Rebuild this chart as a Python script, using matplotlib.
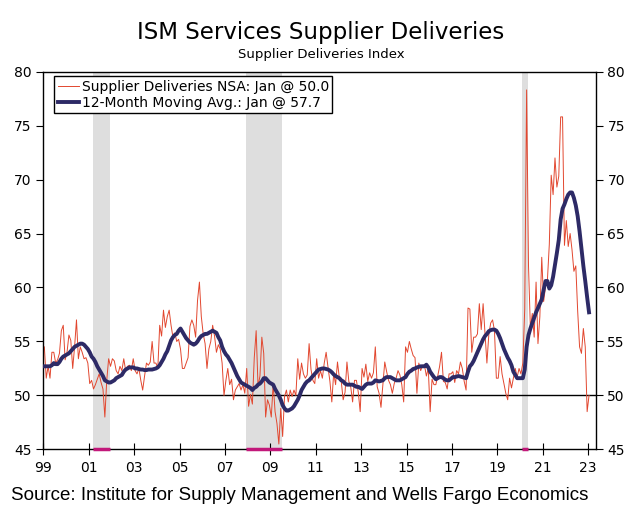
import numpy as np
import matplotlib.pyplot as plt

# ISM services supplier deliveries, monthly Jan 1999 - Jan 2023 (NSA)
nsa = [
    54.5, 51.6, 52.7, 51.6, 54.0, 54.0, 53.0, 53.3, 53.9, 56.0, 56.5, 53.3,  # 1999
    54.0, 55.6, 55.1, 52.5, 54.5, 57.0, 53.4, 54.5, 54.0, 53.4, 53.5, 53.0,  # 2000
    51.1, 51.4, 50.6, 51.0, 51.5, 52.0, 51.2, 50.6, 48.0, 51.4, 53.4, 52.7,  # 2001
    53.4, 53.2, 52.3, 52.0, 52.7, 52.3, 53.4, 52.3, 52.7, 52.8, 52.3, 53.4,  # 2002
    52.3, 52.0, 52.5, 51.4, 50.5, 51.8, 53.0, 52.8, 53.1, 55.0, 53.0, 53.0,  # 2003
    52.5, 56.5, 55.5, 57.9, 56.3, 57.3, 57.9, 56.5, 55.4, 55.8, 55.0, 55.2,  # 2004
    54.3, 52.5, 52.5, 53.0, 53.5, 56.4, 57.0, 56.5, 55.4, 58.8, 60.5, 57.3,  # 2005
    55.7, 54.8, 52.5, 54.3, 55.0, 56.5, 55.5, 54.0, 54.7, 54.3, 53.0, 50.0,  # 2006
    51.4, 52.5, 51.0, 51.5, 49.6, 50.5, 50.8, 51.1, 50.5, 51.0, 50.2, 52.5,  # 2007
    49.0, 50.1, 49.2, 53.5, 56.0, 50.8, 51.8, 55.4, 53.9, 48.0, 49.6, 49.1,  # 2008
    48.0, 51.1, 48.5, 47.4, 45.5, 48.8, 46.2, 49.9, 50.5, 49.4, 50.5, 49.9,  # 2009
    50.5, 50.0, 53.4, 51.5, 53.0, 52.0, 51.6, 51.9, 54.8, 52.4, 51.4, 51.1,  # 2010
    53.4, 51.6, 52.3, 51.6, 53.0, 54.0, 52.6, 51.3, 49.4, 52.1, 51.0, 53.1,  # 2011
    51.6, 51.3, 49.6, 50.3, 53.1, 51.3, 50.8, 49.4, 51.4, 51.4, 50.3, 48.5,  # 2012
    52.5, 51.7, 52.9, 51.3, 52.1, 51.6, 52.1, 54.5, 50.8, 50.2, 48.9, 51.0,  # 2013
    53.1, 52.2, 51.4, 51.0, 50.2, 51.1, 51.6, 52.3, 51.9, 51.0, 49.4, 54.5,  # 2014
    54.0, 55.0, 54.3, 53.7, 53.5, 50.2, 53.0, 52.3, 52.8, 52.8, 51.8, 52.5,  # 2015
    48.5, 51.5, 51.0, 51.0, 51.8, 52.7, 54.0, 51.3, 51.2, 50.6, 52.0, 52.0,  # 2016
    52.2, 51.2, 52.3, 52.0, 53.1, 52.5, 51.3, 50.5, 58.1, 58.0, 54.0, 55.4,  # 2017
    55.4, 55.7, 58.5, 56.1, 58.5, 55.8, 53.0, 55.6, 56.7, 57.0, 56.0, 51.6,  # 2018
    51.6, 53.6, 52.0, 51.1, 50.2, 49.6, 51.6, 50.7, 51.6, 52.5, 51.7, 52.5,  # 2019
    52.0, 53.0, 58.0, 78.3, 62.0, 56.2, 57.6, 55.4, 60.5, 54.8, 57.3, 62.8,  # 2020
    58.7, 60.1, 60.7, 64.0, 70.4, 68.6, 72.0, 69.3, 70.3, 75.8, 75.8, 63.9,  # 2021
    66.2, 63.8, 65.0, 63.5, 61.5, 62.0, 57.8, 54.5, 53.9, 56.2, 54.5, 48.5,  # 2022
    50.0,                                                                    # 2023
]

# 12-month moving average as drawn
ma12 = [
    52.7, 52.7, 52.7, 52.7, 52.8, 53.0, 52.9, 52.9, 53.1, 53.4, 53.6, 53.7,
    53.8, 53.9, 54.1, 54.3, 54.5, 54.6, 54.7, 54.8, 54.8, 54.7, 54.5, 54.3,
    54.0, 53.6, 53.4, 53.1, 52.7, 52.4, 52.1, 51.8, 51.4, 51.3, 51.2, 51.2,
    51.3, 51.4, 51.6, 51.7, 51.8, 51.9, 52.2, 52.4, 52.5, 52.6, 52.6, 52.6,
    52.5, 52.5, 52.45, 52.4, 52.4, 52.35, 52.35, 52.4, 52.4, 52.4, 52.45, 52.5,
    52.6, 52.8, 53.1, 53.4, 53.8, 54.1, 54.6, 55.1, 55.4, 55.6, 55.7, 56.0,
    56.2, 55.9, 55.6, 55.3, 55.1, 54.9, 54.8, 54.7, 54.8, 55.0, 55.3, 55.5,
    55.6, 55.7, 55.7, 55.8, 55.9, 56.0, 55.9, 55.8, 55.4, 55.1, 54.5, 54.1,
    53.8, 53.6, 53.3, 53.0, 52.6, 52.2, 51.8, 51.5, 51.2, 51.1, 51.0, 50.9,
    50.8, 50.7, 50.5, 50.7, 50.8, 51.0, 51.1, 51.3, 51.6, 51.6, 51.4, 51.2,
    51.1, 51.0, 50.6, 50.3, 50.0, 49.6, 49.1, 48.8, 48.6, 48.6, 48.7, 48.8,
    49.0, 49.3, 49.6, 50.0, 50.5, 50.8, 51.1, 51.3, 51.4, 51.6, 51.8, 52.0,
    52.2, 52.4, 52.45, 52.5, 52.5, 52.45, 52.4, 52.3, 52.15, 51.95, 51.8, 51.7,
    51.6, 51.4, 51.3, 51.1, 51.0, 51.0, 51.0, 51.0, 50.9, 50.8, 50.8, 50.7,
    50.6, 50.8, 51.0, 51.1, 51.1, 51.1, 51.2, 51.4, 51.35, 51.3, 51.35, 51.4,
    51.6, 51.7, 51.7, 51.7, 51.6, 51.5, 51.4, 51.4, 51.4, 51.5, 51.6, 51.7,
    52.0, 52.2, 52.3, 52.45, 52.5, 52.6, 52.65, 52.7, 52.7, 52.7, 52.85, 52.6,
    52.2, 51.95, 51.7, 51.5, 51.6, 51.7, 51.7, 51.6, 51.45, 51.4, 51.4, 51.55,
    51.7, 51.7, 51.75, 51.8, 51.75, 51.7, 51.65, 51.6, 52.2, 52.7, 52.9, 53.2,
    53.6, 54.0, 54.4, 54.8, 55.2, 55.5, 55.7, 55.95, 56.05, 56.1, 56.1, 56.0,
    55.7, 55.3, 54.8, 54.3, 53.9, 53.5, 53.2, 52.8, 52.2, 51.9, 51.6, 51.6,
    51.6, 51.6, 52.4, 54.5, 55.6, 56.2, 56.7, 57.2, 57.7, 58.1, 58.5, 58.9,
    59.8, 60.6, 60.6, 59.9, 60.2, 61.0, 62.1, 63.2, 64.4, 66.3, 67.3, 67.7,
    68.2, 68.6, 68.8, 68.8, 68.3, 67.6, 66.6, 65.2, 63.6, 62.0, 60.6, 59.1,
    57.7,
]

# recessions (start, end) in decimal years
rec_start = [2001 + 2/12, 2007 + 11/12, 2020 + 1/12]
rec_end = [2001 + 11/12, 2009 + 6/12, 2020 + 4/12]

x = 1999 + (np.arange(len(nsa)) + 0.5) / 12

fig = plt.figure(figsize=(6.38, 5.30), dpi=100)
ax = fig.add_axes([0.068, 0.152, 0.8655, 0.713])

for s, e in zip(rec_start, rec_end):
    ax.axvspan(s, e, color='#dedede', lw=0, zorder=0)
    ax.plot([s, e], [45, 45], color='#c2187a', lw=2.5, solid_capstyle='butt',
             clip_on=False, zorder=5)

ax.axhline(50, color='black', lw=1, zorder=1)
ax.plot(x, nsa, color='#e2472f', lw=0.7, zorder=2,
        label='Supplier Deliveries NSA: Jan @ 50.0')
ax.plot(x, ma12, color='#2d2a66', lw=2.8, zorder=3,
        label='12-Month Moving Avg.: Jan @ 57.7')

ax.set_xlim(1999, 2023.33)
ax.set_ylim(45, 80)
ax.set_xticks(np.arange(1999, 2024, 2))
ax.set_xticklabels([f'{y % 100:02d}' for y in range(1999, 2024, 2)])
ax.set_yticks(np.arange(45, 81, 5))

ax.tick_params(axis='x', direction='inout', length=8, labelsize=10, pad=4)
ax.tick_params(axis='y', direction='out', length=5, labelsize=10,
               left=True, right=True, labelleft=True, labelright=True)
for sp in ax.spines.values():
    sp.set_linewidth(1)

leg = ax.legend(loc='upper left', bbox_to_anchor=(0.02, 0.988), borderaxespad=0,
                fontsize=10, frameon=True, fancybox=False, framealpha=1,
                edgecolor='black', handlelength=1.5, handletextpad=0.2,
                borderpad=0.25, labelspacing=0.15)
leg.get_frame().set_linewidth(1)

fig.text(0.503, 0.938, 'ISM Services Supplier Deliveries', ha='center',
         va='center', fontsize=16.5)
fig.text(0.503, 0.897, 'Supplier Deliveries Index', ha='center',
         va='center', fontsize=9.5)
fig.text(0.018, 0.066,
         'Source: Institute for Supply Management and Wells Fargo Economics',
         ha='left', va='center', fontsize=13.5, family='Liberation Sans')

plt.savefig('out.png', dpi=100)
